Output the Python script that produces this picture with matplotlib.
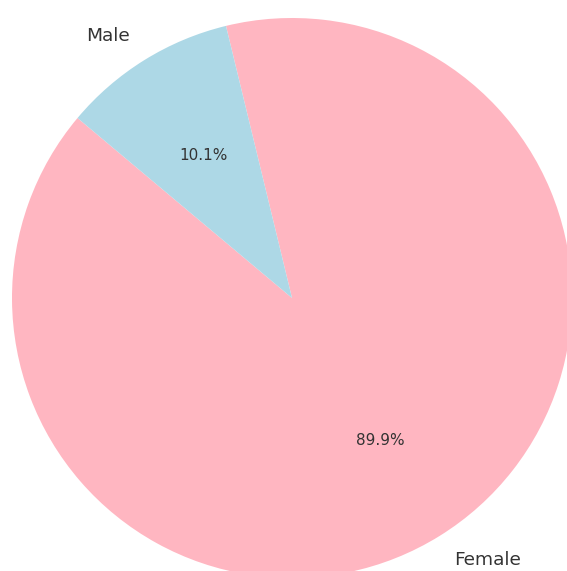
import matplotlib
matplotlib.use("Agg")
import matplotlib.pyplot as plt

labels = ["Female", "Male"]
values = [89.9, 10.1]
colors = ["#FFB6C1", "#ADD8E6"]

W, H = 567, 571
fig = plt.figure(figsize=(W / 100, H / 100), dpi=100)
ax = fig.add_axes([0, 0, 1, 1])
cx, cy, r = 292, 298, 280

wedges, texts, autotexts = ax.pie(values, labels=labels, colors=colors,
                                  autopct="%1.1f%%", startangle=140,
                                  textprops={"color": "#333333"},
                                  frame=True)
ax.set_xlim(-cx / r, (W - cx) / r)
ax.set_ylim(-(H - cy) / r, cy / r)
ax.axis("off")
for t in texts:
    t.set_fontsize(13.3)
for t in autotexts:
    t.set_fontsize(11)

fig.savefig("out.png", dpi=100)
